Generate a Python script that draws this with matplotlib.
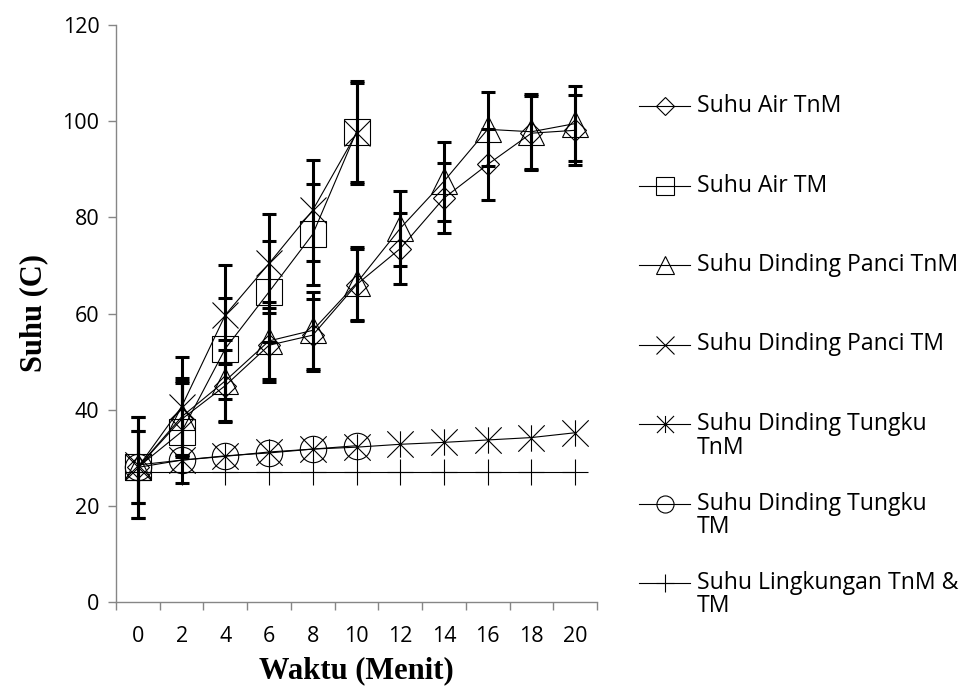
import numpy as np
import matplotlib
matplotlib.use("Agg")
import matplotlib.pyplot as plt
from matplotlib.path import Path

# data
waktu = [0, 2, 4, 6, 8, 10, 12, 14, 16, 18, 20]
waktu_tm = [0, 2, 4, 6, 8, 10]

air_tnm = [28, 38, 45, 53.4, 55.5, 66, 73.5, 84, 91, 97.5, 98.1]
err_air_tnm = [7.5, 7.5, 7.4, 7.7, 7.5, 7.5, 7.3, 7.3, 7.4, 7.7, 7.3]

air_tm = [28, 35.4, 52.7, 64.5, 76.5, 97.8]
err_air_tm = [10.5, 10.6, 10.5, 10.5, 10.5, 10.5]

panci_tnm = [28, 38.5, 46, 54.3, 56.5, 66.3, 77.7, 87.5, 98.3, 97.8, 99.5]
err_panci_tnm = [7.5, 8, 8.5, 8, 8, 7.6, 7.8, 8.2, 7.7, 7.8, 7.8]

panci_tm = [28, 40.6, 59.7, 70.4, 81.5, 97.5]
err_panci_tm = [10.5, 10.4, 10.3, 10.3, 10.5, 10.5]

tungku_tnm = [28.5, 29.5, 30.3, 31.2, 31.8, 32.2, 32.8, 33.2, 33.7, 34.2, 35.2]
tungku_tm = [28, 29.5, 30.4, 31, 31.8, 32.5]
lingkungan = [27, 27, 27, 27, 27, 27, 27, 27, 27, 27, 27]

labels = [["Suhu Air TnM"], ["Suhu Air TM"], ["Suhu Dinding Panci TnM"],
          ["Suhu Dinding Panci TM"], ["Suhu Dinding Tungku", "TnM"],
          ["Suhu Dinding Tungku", "TM"], ["Suhu Lingkungan TnM &", "TM"]]

# asterisk marker like excel (x with a vertical bar)
star = Path([(-1, -1), (1, 1), (-1, 1), (1, -1), (0, -1), (0, 1)],
            [Path.MOVETO, Path.LINETO] * 3)

fig = plt.figure(figsize=(9.6, 6.93), dpi=100)
ax = fig.add_axes([116 / 960, 1 - 602 / 693, 481 / 960, 577 / 693])

lw = 0.8
mk = dict(markerfacecolor="none", markeredgecolor="black", markeredgewidth=lw)
eb = dict(ecolor="black", elinewidth=2.2, capsize=4.7, capthick=2.2)

series = [
    (waktu, air_tnm, err_air_tnm, "D", 11.7),
    (waktu_tm, air_tm, err_air_tm, "s", 19),
    (waktu, panci_tnm, err_panci_tnm, "^", 19),
    (waktu_tm, panci_tm, err_panci_tm, "x", 19),
    (waktu, tungku_tnm, None, star, 19),
    (waktu_tm, tungku_tm, None, "o", 19),
    (waktu, lingkungan, None, "+", 19),
]

for x, y, e, m, ms in series:
    ax.plot(x, y, color="black", lw=lw, marker=m, markersize=ms, **mk)
    if e is not None:
        ax.errorbar(x, y, yerr=e, fmt="none", **eb)

ax.set_xlim(-1, 21)
ax.set_ylim(0, 120)
ax.set_yticks(np.arange(0, 121, 20))
ax.set_xticks(np.arange(-1, 22, 2))
ax.set_xticklabels([])
ax.set_xticks(waktu, minor=True)
ax.set_xticklabels([str(v) for v in waktu], minor=True)

for s in ["top", "right"]:
    ax.spines[s].set_visible(False)
for s in ["left", "bottom"]:
    ax.spines[s].set_color("#868686")
    ax.spines[s].set_linewidth(1)

tick_font = "Open Sans"
ax.tick_params(axis="y", direction="out", length=6, width=1, color="#868686",
               labelsize=15.5, pad=6)
ax.tick_params(axis="x", which="major", direction="out", length=6, width=1,
               color="#868686")
ax.tick_params(axis="x", which="minor", length=0, labelsize=15.5, pad=17)
for t in ax.get_yticklabels() + ax.get_xticklabels(minor=True):
    t.set_fontfamily(tick_font)

ax.set_xlabel("Waktu (Menit)", fontfamily="Liberation Serif", fontweight="bold",
              fontsize=22, labelpad=7)
ax.set_ylabel("Suhu (C)", fontfamily="Liberation Serif", fontweight="bold",
              fontsize=22, labelpad=10)

# legend drawn like excel: handle lined up with the first text line
lax = fig.add_axes([0, 0, 1, 1])
lax.set_xlim(0, 960)
lax.set_ylim(693, 0)
lax.axis("off")
leg_ms = {"D": 9.2}
for i, (lab, (x, y, e, m, ms)) in enumerate(zip(labels, series)):
    yy = 106 + 79.5 * i
    lax.plot([639, 690], [yy, yy], color="black", lw=lw)
    lax.plot([665], [yy], marker=m, markersize=leg_ms.get(m, 12.3) if isinstance(m, str) else 12.3, **mk)
    for j, line in enumerate(lab):
        lax.text(697, yy + 23.5 * j, line, va="center", ha="left",
                 fontfamily="Open Sans", fontsize=16.6)

fig.savefig("out.png", dpi=100)
